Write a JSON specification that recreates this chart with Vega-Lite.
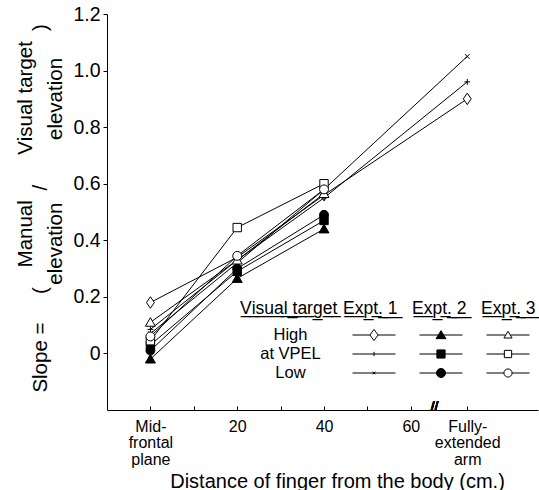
{
  "$schema": "https://vega.github.io/schema/vega-lite/v6.json",
  "width": 431,
  "height": 396,
  "autosize": "none",
  "padding": {"left": 107, "top": 14, "right": 1, "bottom": 80},
  "config": {
    "view": {"stroke": null},
    "font": "Liberation Sans",
    "axis": {"grid": false, "domainColor": "black", "tickColor": "black", "labelColor": "black", "titleColor": "black", "titleFontWeight": "normal", "labelFlush": false, "labelOverlap": false, "labelBound": false}
  },
  "data": {
    "values": [
      {"key": "E1 High", "target": "High", "x": 0, "y": 0.18},
      {"key": "E1 High", "target": "High", "x": 20, "y": 0.34},
      {"key": "E1 High", "target": "High", "x": 40, "y": 0.56},
      {"key": "E1 High", "target": "High", "x": 73, "y": 0.90},
      {"key": "E1 VPEL", "target": "at VPEL", "x": 0, "y": 0.085},
      {"key": "E1 VPEL", "target": "at VPEL", "x": 20, "y": 0.33},
      {"key": "E1 VPEL", "target": "at VPEL", "x": 40, "y": 0.55},
      {"key": "E1 VPEL", "target": "at VPEL", "x": 73, "y": 0.96},
      {"key": "E1 Low", "target": "Low", "x": 0, "y": 0.07},
      {"key": "E1 Low", "target": "Low", "x": 20, "y": 0.32},
      {"key": "E1 Low", "target": "Low", "x": 40, "y": 0.58},
      {"key": "E1 Low", "target": "Low", "x": 73, "y": 1.05},
      {"key": "E2 High", "target": "High", "x": 0, "y": -0.02},
      {"key": "E2 High", "target": "High", "x": 20, "y": 0.265},
      {"key": "E2 High", "target": "High", "x": 40, "y": 0.44},
      {"key": "E2 VPEL", "target": "at VPEL", "x": 0, "y": 0.03},
      {"key": "E2 VPEL", "target": "at VPEL", "x": 20, "y": 0.29},
      {"key": "E2 VPEL", "target": "at VPEL", "x": 40, "y": 0.47},
      {"key": "E2 Low", "target": "Low", "x": 0, "y": 0.01},
      {"key": "E2 Low", "target": "Low", "x": 20, "y": 0.30},
      {"key": "E2 Low", "target": "Low", "x": 40, "y": 0.49},
      {"key": "E3 High", "target": "High", "x": 0, "y": 0.11},
      {"key": "E3 High", "target": "High", "x": 20, "y": 0.33},
      {"key": "E3 High", "target": "High", "x": 40, "y": 0.565},
      {"key": "E3 VPEL", "target": "at VPEL", "x": 0, "y": 0.045},
      {"key": "E3 VPEL", "target": "at VPEL", "x": 20, "y": 0.445},
      {"key": "E3 VPEL", "target": "at VPEL", "x": 40, "y": 0.60},
      {"key": "E3 Low", "target": "Low", "x": 0, "y": 0.06},
      {"key": "E3 Low", "target": "Low", "x": 20, "y": 0.345},
      {"key": "E3 Low", "target": "Low", "x": 40, "y": 0.58}
    ]
  },
  "encoding": {
    "x": {
      "field": "x", "type": "quantitative",
      "scale": {"domain": [-10, 89.3], "nice": false, "zero": false},
      "axis": {
        "values": [0, 10, 20, 30, 40, 50, 60, 73],
        "labelExpr": "datum.value == 0 ? ['Mid-', 'frontal', 'plane'] : datum.value == 73 ? ['Fully-', 'extended', 'arm'] : (datum.value % 20 == 0 ? datum.label : '')",
        "labelFontSize": 16, "labelLineHeight": 16.5, "labelBaseline": "top",
        "tickSize": -4, "labelPadding": 12,
        "title": "Distance of finger from the body (cm.)",
        "titleFontSize": 20, "titleX": 230, "titleY": 77, "titleBaseline": "alphabetic", "titleAlign": "center"
      }
    },
    "y": {
      "field": "y", "type": "quantitative",
      "scale": {"domain": [-0.2, 1.2], "nice": false, "zero": false},
      "axis": {
        "values": [0, 0.2, 0.4, 0.6, 0.8, 1.0, 1.2],
        "labelExpr": "datum.value == 0 ? '0' : format(datum.value, '.1f')",
        "labelFontSize": 19.5, "tickSize": 4, "labelPadding": 3,
        "title": [
          "\u200b\u00a0\u00a0\u00a0\u00a0\u00a0\u00a0\u00a0\u00a0\u00a0\u00a0\u00a0\u00a0\u00a0\u00a0\u00a0\u00a0\u00a0\u00a0Manual\u00a0\u00a0\u00a0\u00a0\u00a0\u00a0\u00a0\u00a0Visual target\u200b",
          "\u200bSlope =\u00a0\u00a0\u00a0\u00a0\u00a0(\u00a0\u00a0\u00a0\u00a0\u00a0\u00a0\u00a0\u00a0\u00a0\u00a0\u00a0\u00a0\u00a0\u00a0\u00a0\u00a0\u00a0/\u00a0\u00a0\u00a0\u00a0\u00a0\u00a0\u00a0\u00a0\u00a0\u00a0\u00a0\u00a0\u00a0\u00a0\u00a0\u00a0\u00a0\u00a0\u00a0\u00a0\u00a0\u00a0\u00a0\u00a0\u00a0\u00a0\u00a0)\u00a0\u200b",
          "\u200b\u00a0\u00a0\u00a0\u00a0\u00a0\u00a0\u00a0\u00a0\u00a0\u00a0\u00a0\u00a0elevation\u00a0\u00a0\u00a0\u00a0\u00a0\u00a0\u00a0\u00a0\u00a0\u00a0\u00a0elevation\u200b"
        ],
        "titleFontSize": 20.5, "titleLineHeight": 15, "titleBaseline": "bottom", "titleAngle": -90,
        "titleX": -72, "titleY": 191, "titleAlign": "center"
      }
    }
  },
  "layer": [
    {
      "mark": {"type": "line", "color": "black", "strokeWidth": 1},
      "encoding": {"detail": {"field": "key"}}
    },
    {
      "mark": {"type": "point", "stroke": "black", "strokeWidth": 1, "opacity": 1, "size": 110},
      "encoding": {
        "shape": {
          "field": "key", "type": "nominal", "legend": null,
          "scale": {
            "domain": ["E1 High", "E1 VPEL", "E1 Low", "E2 High", "E2 VPEL", "E2 Low", "E3 High", "E3 VPEL", "E3 Low"],
            "range": [
              "M0,-1.1L0.75,0L0,1.1L-0.75,0Z",
              "M0,-0.55V0.55M-0.55,0H0.55",
              "M-0.45,-0.45L0.45,0.45M-0.45,0.45L0.45,-0.45",
              "M0,-0.9L0.95,0.75L-0.95,0.75Z",
              "M-0.8,-0.8H0.8V0.8H-0.8Z",
              "M-0.85,0A0.85,0.85,0,1,1,0.85,0A0.85,0.85,0,1,1,-0.85,0Z",
              "M0,-0.9L0.95,0.75L-0.95,0.75Z",
              "M-0.8,-0.8H0.8V0.8H-0.8Z",
              "M-0.85,0A0.85,0.85,0,1,1,0.85,0A0.85,0.85,0,1,1,-0.85,0Z"
            ]
          }
        },
        "fill": {
          "field": "key", "type": "nominal", "legend": null,
          "scale": {
            "domain": ["E1 High", "E1 VPEL", "E1 Low", "E2 High", "E2 VPEL", "E2 Low", "E3 High", "E3 VPEL", "E3 Low"],
            "range": ["white", "white", "white", "black", "black", "black", "white", "white", "white"]
          }
        }
      }
    },
    {
      "mark": {"type": "point", "opacity": 0, "size": 1849, "strokeWidth": 1},
      "encoding": {
        "shape": {
          "field": "key", "type": "nominal",
          "scale": {
            "domain": ["E1 High", "E2 High", "E3 High", "E1 VPEL", "E2 VPEL", "E3 VPEL", "E1 Low", "E2 Low", "E3 Low"],
            "range": [
              "M-1,0H-0.19M0.19,0H1M0,-0.26L0.19,0L0,0.26L-0.19,0Z",
              "M-1,0H1M0,-0.2L0.23,0.17L-0.23,0.17Z",
              "M-1,0H-0.11M0.11,0H1M0,-0.17L0.19,0.14L-0.19,0.14Z",
              "M-1,0H1M0,-0.1V0.1",
              "M-1,0H1M-0.19,-0.19H0.19V0.19H-0.19Z",
              "M-1,0H-0.17M0.17,0H1M-0.17,-0.17H0.17V0.17H-0.17Z",
              "M-1,0H1M-0.06,-0.06L0.06,0.06M-0.06,0.06L0.06,-0.06",
              "M-1,0H1M-0.21,0A0.21,0.21,0,1,1,0.21,0A0.21,0.21,0,1,1,-0.21,0Z",
              "M-1,0H-0.19M0.19,0H1M-0.19,0A0.19,0.19,0,1,1,0.19,0A0.19,0.19,0,1,1,-0.19,0Z"
            ]
          },
          "legend": {
            "orient": "none", "legendX": 236, "legendY": 286, "direction": "horizontal", "columns": 3,
            "columnPadding": 14, "rowPadding": 0, "clipHeight": 19, "padding": 0,
            "symbolSize": 1849, "symbolOffset": 9, "symbolOpacity": 1, "symbolStrokeWidth": 1,
            "labelExpr": "''", "labelOffset": 0,
            "title": "E\u0332x\u0332p\u0332t\u0332.\u0332 \u03321\u0332\u00a0\u00a0\u00a0E\u0332x\u0332p\u0332t\u0332.\u0332 \u03322\u0332\u00a0\u00a0\u00a0E\u0332x\u0332p\u0332t\u0332.\u0332 \u03323\u0332",
            "titleFontSize": 17.5, "titleFontWeight": "normal", "titleColor": "black", "titlePadding": 8, "titleLimit": 400
          }
        },
        "fill": {
          "field": "key", "type": "nominal",
          "scale": {
            "domain": ["E1 High", "E2 High", "E3 High", "E1 VPEL", "E2 VPEL", "E3 VPEL", "E1 Low", "E2 Low", "E3 Low"],
            "range": ["white", "black", "white", "white", "black", "white", "white", "black", "white"]
          }
        },
        "stroke": {
          "field": "key", "type": "nominal",
          "scale": {
            "domain": ["E1 High", "E2 High", "E3 High", "E1 VPEL", "E2 VPEL", "E3 VPEL", "E1 Low", "E2 Low", "E3 Low"],
            "range": ["black", "black", "black", "black", "black", "black", "black", "black", "black"]
          }
        }
      }
    },
    {
      "mark": {"type": "point", "opacity": 0},
      "encoding": {
        "color": {
          "field": "target", "type": "nominal",
          "scale": {"domain": ["High", "at VPEL", "Low"], "range": ["black", "black", "black"]},
          "legend": {
            "orient": "none", "legendX": 133, "legendY": 286, "direction": "vertical",
            "rowPadding": 0, "clipHeight": 19, "padding": 0,
            "symbolSize": 1, "symbolOpacity": 0, "symbolStrokeWidth": 0,
            "labelFontSize": 16.5, "labelColor": "black", "labelAlign": "center", "labelOffset": 34,
            "title": "V\u0332i\u0332s\u0332u\u0332a\u0332l\u0332 \u0332t\u0332a\u0332r\u0332g\u0332e\u0332t\u0332",
            "titleFontSize": 17.5, "titleFontWeight": "normal", "titleColor": "black", "titlePadding": 8
          }
        }
      }
    },
    {
      "mark": {"type": "text", "text": "//", "fontSize": 13, "baseline": "middle", "align": "center", "fill": "black"},
      "encoding": {"x": {"datum": 65.5}, "y": {"datum": -0.185}}
    }
  ],
  "resolve": {"scale": {"shape": "independent", "fill": "independent", "stroke": "independent"}}
}
